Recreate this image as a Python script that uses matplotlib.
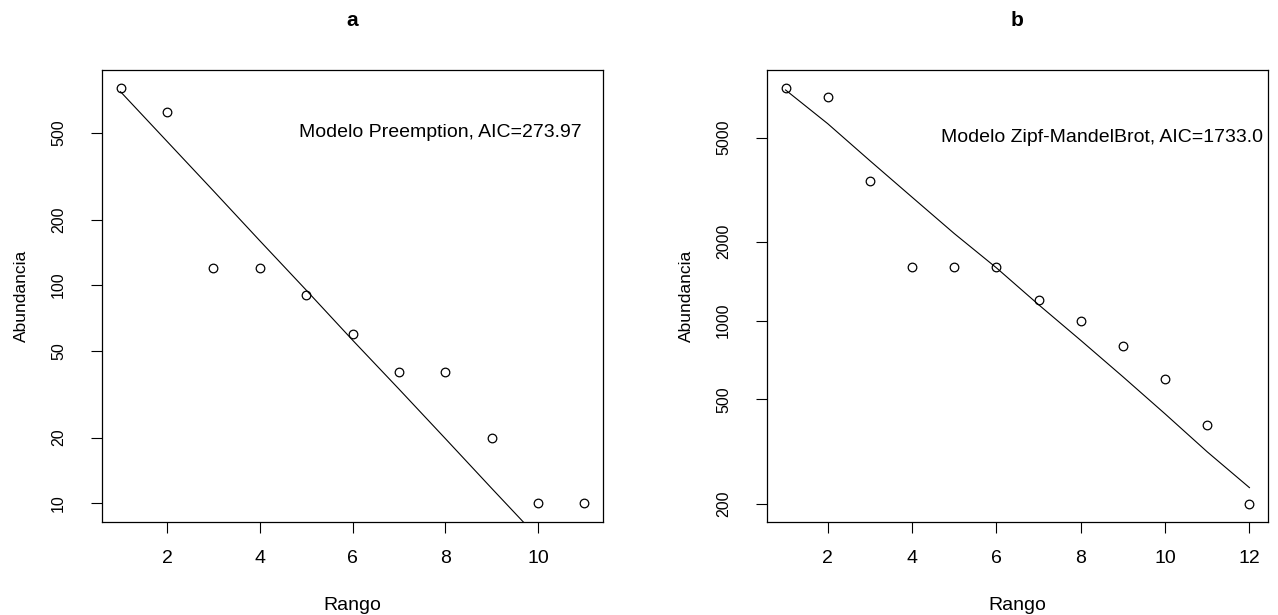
import matplotlib.pyplot as plt
from matplotlib.ticker import FixedLocator, NullLocator

plt.rcParams['font.family'] = ['Liberation Sans', 'DejaVu Sans']

# panel a: Preemption
rank_a = [1, 2, 3, 4, 5, 6, 7, 8, 9, 10, 11]
abund_a = [800, 620, 120, 120, 90, 60, 40, 40, 20, 10, 10]
fit_a = [771, 457, 271, 160, 95, 56, 33.4, 19.8, 11.7, 6.95, 4.1]

# panel b: Zipf-Mandelbrot
rank_b = [1, 2, 3, 4, 5, 6, 7, 8, 9, 10, 11, 12]
abund_b = [7750, 7150, 3400, 1600, 1600, 1600, 1200, 1000, 800, 600, 400, 200]
fit_b = [7600, 5650, 4080, 2960, 2150, 1590, 1150, 840, 610, 440, 315, 230]

yticks_a = [10, 20, 50, 100, 200, 500]
yticks_b = [200, 500, 1000, 2000, 5000]
xticks_a = [2, 4, 6, 8, 10]
xticks_b = [2, 4, 6, 8, 10, 12]

fig = plt.figure(figsize=(12.78, 6.15), dpi=100)
W, H = 1278, 615

def make_ax(left_px, right_px):
    return fig.add_axes([left_px / W, (H - 522) / H, (right_px - left_px) / W, 452 / H])

panels = [
    (make_ax(102, 603), rank_a, abund_a, fit_a, yticks_a, xticks_a, (8.2, 970), (0.6, 11.4),
     'a', 'Modelo Preemption, AIC=273.97', 0.958, 0.861),
    (make_ax(767, 1268), rank_b, abund_b, fit_b, yticks_b, xticks_b, (170, 9060), (0.56, 12.44),
     'b', 'Modelo Zipf-MandelBrot, AIC=1733.0', 0.99, 0.850),
]

for ax, r, ab, fit, yt, xt, ylim, xlim, title, note, nx, ny in panels:
    ax.set_yscale('log')
    ax.plot(r, ab, 'o', ms=6.2, mfc='none', mec='black', mew=0.9)
    ax.plot(r, fit, '-', color='black', lw=0.8)
    ax.set_ylim(*ylim)
    ax.set_xlim(*xlim)
    ax.yaxis.set_major_locator(FixedLocator(yt))
    ax.yaxis.set_minor_locator(NullLocator())
    ax.set_yticklabels([str(v) for v in yt])
    ax.set_xticks(xt)
    ax.tick_params(axis='y', labelrotation=90, length=8, width=0.8, pad=18, labelsize=11.5)
    ax.tick_params(axis='x', length=8, width=0.8, pad=12, labelsize=14)
    for lab in ax.get_yticklabels():
        lab.set_va('center')
    for s in ax.spines.values():
        s.set_linewidth(0.9)
    ax.set_xlabel('Rango', fontsize=14, va='center')
    ax.xaxis.set_label_coords(0.5, -(605 - 522) / 452)
    ax.set_ylabel('Abundancia', fontsize=12.5, va='center')
    ax.yaxis.set_label_coords(-0.16, 0.5)
    ax.text(0.5, 1 + 50 / 452, title, transform=ax.transAxes, ha='center', va='center',
            fontsize=15, fontweight='bold')
    ax.text(nx, ny, note, transform=ax.transAxes, ha='right', va='center', fontsize=14)

fig.savefig('out.png', dpi=100)
